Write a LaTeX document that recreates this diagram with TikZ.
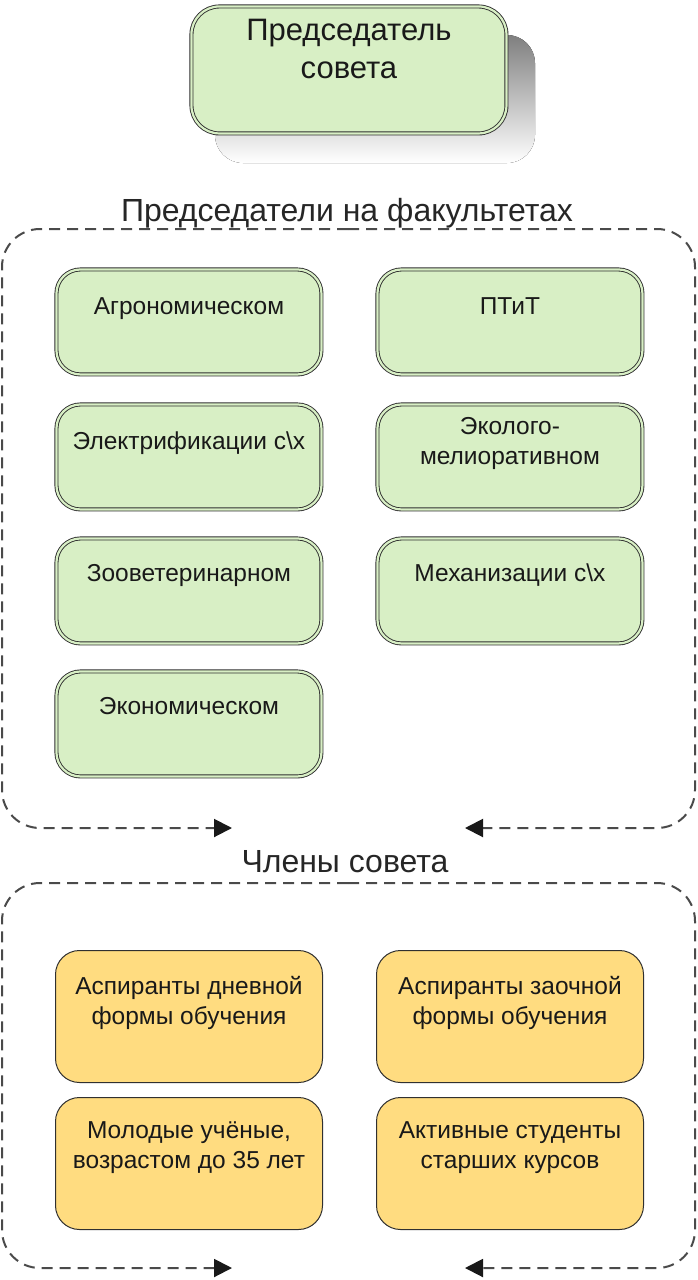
\documentclass[tikz,border=0pt]{standalone}
\usepackage{fontspec}
\setmainfont{Liberation Sans}
\usetikzlibrary{arrows.meta}
\definecolor{gfill}{HTML}{D8EFC5}
\definecolor{ofill}{HTML}{FFDC80}
\definecolor{edge}{HTML}{303030}
\definecolor{dash}{HTML}{4A4A4A}
\definecolor{shade}{HTML}{D2D2D2}
\tikzset{
  gbox/.style={draw=edge, line width=0.9pt, double=gfill, double distance=2.2pt,
    fill=gfill, rounded corners=24pt, minimum width=265pt, minimum height=105pt,
    inner sep=0pt, anchor=north west},
  obox/.style={draw=edge, line width=1pt, fill=ofill, rounded corners=24pt,
    minimum width=267pt, minimum height=132pt, inner sep=0pt, anchor=north west},
  btext/.style={font=\fontsize{24.5}{30}\selectfont, align=center, anchor=north, inner sep=0pt, text=black!90},
  heading/.style={font=\fontsize{32}{36}\selectfont, anchor=base, inner sep=0pt, text=black!85},
  container/.style={draw=dash, line width=2pt, dash pattern=on 11pt off 7pt,
    rounded corners=38pt, -{Triangle[length=18pt,width=18pt,color=black!90]}},
}
\begin{document}
\begin{tikzpicture}[x=1pt,y=-1pt]
\useasboundingbox (0,0) rectangle (697,1280);
% top box
\fill[shade, rounded corners=28pt] (215,35) rectangle (535,163);
\node[gbox, minimum width=315pt, minimum height=127pt, rounded corners=28pt] (chair) at (191,6) {};
\node[btext, font=\fontsize{31}{38}\selectfont] (chairt) at ([yshift=-13pt]chair.north) {Председатель\\совета};

% container 1
\node[heading] (h1) at (347,221) {Председатели на факультетах};
\coordinate (c1top) at (348,229);
\coordinate (c1l) at (232,828);
\coordinate (c1r) at (465,828);
\draw[container] (c1top) -- (2,229) -- (2,828) -- (c1l);
\draw[container] (c1top) -- (695,229) -- (695,828) -- (c1r);

\node[gbox] (a1) at (56,269) {};
\node[btext] (a1t) at ([yshift=-28pt]a1.north) {Агрономическом};
\node[gbox] (b1) at (377,269) {};
\node[btext] (b1t) at ([yshift=-28pt]b1.north) {ПТиТ};
\node[gbox] (a2) at (56,404) {};
\node[btext] (a2t) at ([yshift=-28pt]a2.north) {Электрификации с\textbackslash х};
\node[gbox] (b2) at (377,404) {};
\node[btext] (b2t) at ([yshift=-13pt]b2.north) {Эколого-\\мелиоративном};
\node[gbox] (a3) at (56,538) {};
\node[btext] (a3t) at ([yshift=-26pt]a3.north) {Зооветеринарном};
\node[gbox] (b3) at (377,538) {};
\node[btext] (b3t) at ([yshift=-26pt]b3.north) {Механизации с\textbackslash х};
\node[gbox] (a4) at (56,671) {};
\node[btext] (a4t) at ([yshift=-26pt]a4.north) {Экономическом};

% container 2
\node[heading] (h2) at (345,872) {Члены совета};
\coordinate (c2top) at (348,883);
\coordinate (c2l) at (232,1268);
\coordinate (c2r) at (465,1268);
\draw[container] (c2top) -- (2,883) -- (2,1268) -- (c2l);
\draw[container] (c2top) -- (695,883) -- (695,1268) -- (c2r);

\node[obox] (m1) at (55,950) {};
\node[btext] (m1t) at ([yshift=-26pt]m1.north) {Аспиранты дневной\\формы обучения};
\node[obox] (n1) at (376,950) {};
\node[btext] (n1t) at ([yshift=-26pt]n1.north) {Аспиранты заочной\\формы обучения};
\node[obox] (m2) at (55,1097) {};
\node[btext] (m2t) at ([yshift=-24pt]m2.north) {Молодые учёные,\\возрастом до 35 лет};
\node[obox] (n2) at (376,1097) {};
\node[btext] (n2t) at ([yshift=-24pt]n2.north) {Активные студенты\\старших курсов};
\end{tikzpicture}
\end{document}
